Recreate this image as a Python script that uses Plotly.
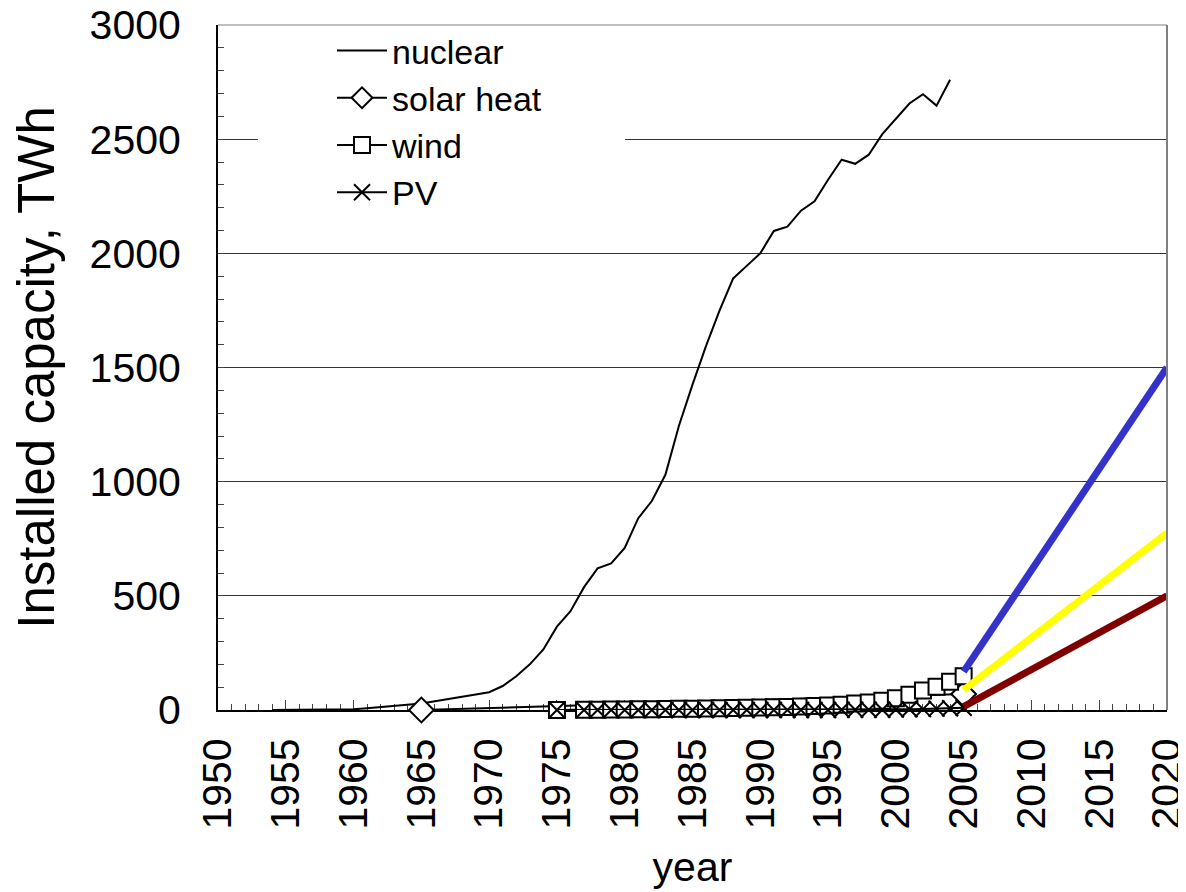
import plotly.graph_objects as go

# ---- data ----
nuclear_years = list(range(1954, 2005))
nuclear_twh = [0, 0, 1, 1, 2, 2, 3, 8, 13, 18, 23, 28, 38, 48, 58, 68, 78,
               105, 148, 200, 265, 365, 433, 538, 620, 642, 710, 840, 915,
               1030, 1245, 1425, 1595, 1750, 1890, 1945, 2000, 2098, 2117,
               2187, 2228, 2322, 2410, 2392, 2432, 2522, 2590, 2656, 2697,
               2647, 2760]

solar_years = [1965, 2005]
solar_twh = [0, 70]

wind_years = [1975] + list(range(1977, 2006))
wind_twh = [0, 1, 1, 2, 2, 3, 3, 4, 5, 6, 7, 8, 9, 10, 11, 12, 13, 15, 17,
            20, 23, 28, 33, 40, 52, 67, 85, 102, 124, 148]

pv_years = [1975] + list(range(1977, 2006))
pv_twh = [0, 0, 0, 0, 0, 0, 0, 0, 0, 0, 0, 0, 0, 0, 0, 0, 0, 0, 0,
          0, 1, 1, 1, 1, 2, 3, 4, 6, 8, 10]

proj_years = [2005, 2020]
wind_proj = [168, 1500]
solar_proj = [88, 775]
pv_proj = [15, 500]

x_ticks = list(range(1950, 2021, 5))
y_ticks = list(range(0, 3001, 500))

FONT = "Liberation Sans, Arial, sans-serif"

# page body has an 8px default margin -> figure sized to the visible area
W, H = 1178, 884
L, R, T, B = 210, 19, 17, 182
PW = W - L - R
PH = H - T - B


def px_x(p):  # screen x of reference -> paper coordinate
    return (p - 8 - L) / PW


def px_y(p):  # screen y of reference -> paper coordinate
    return 1 - (p - 8 - T) / PH


fig = go.Figure()

fig.add_trace(go.Scatter(x=nuclear_years, y=nuclear_twh, mode="lines",
                         name="nuclear", line=dict(color="black", width=2)))
fig.add_trace(go.Scatter(x=solar_years, y=solar_twh, mode="lines+markers",
                         name="solar heat", cliponaxis=False,
                         line=dict(color="black", width=2),
                         marker=dict(symbol="diamond", size=19, color="white",
                                     line=dict(color="black", width=2))))
fig.add_trace(go.Scatter(x=wind_years, y=wind_twh, mode="lines+markers",
                         name="wind", cliponaxis=False,
                         line=dict(color="black", width=2),
                         marker=dict(symbol="square", size=16, color="white",
                                     line=dict(color="black", width=2))))
fig.add_trace(go.Scatter(x=pv_years, y=pv_twh, mode="lines+markers",
                         name="PV", cliponaxis=False,
                         line=dict(color="black", width=2),
                         marker=dict(symbol="x-thin-open", size=16, color="black",
                                     line=dict(color="black", width=2))))
fig.add_trace(go.Scatter(x=proj_years, y=wind_proj, mode="lines", showlegend=False,
                         line=dict(color="#3333CC", width=7)))
fig.add_trace(go.Scatter(x=proj_years, y=solar_proj, mode="lines", showlegend=False,
                         line=dict(color="#FFFF00", width=7)))
fig.add_trace(go.Scatter(x=proj_years, y=pv_proj, mode="lines", showlegend=False,
                         line=dict(color="#800000", width=7)))

# white patch behind the legend hiding the gridline
fig.add_shape(type="rect", xref="paper", yref="paper", layer="above",
              x0=px_x(258), x1=px_x(625), y0=px_y(215), y1=px_y(32),
              fillcolor="white", line=dict(width=0))
# plot frame (top / right in gray)
fig.add_shape(type="line", xref="paper", yref="paper", x0=1, x1=1, y0=0, y1=1,
              line=dict(color="#808080", width=2), layer="above")
fig.add_shape(type="line", xref="paper", yref="paper", x0=0, x1=1, y0=1, y1=1,
              line=dict(color="#808080", width=1), layer="above")

fig.update_layout(
    width=W, height=H,
    margin=dict(l=L, r=R, t=T, b=B, autoexpand=False),
    paper_bgcolor="white", plot_bgcolor="white",
    font=dict(family=FONT, size=41, color="black"),
    showlegend=True,
    legend=dict(x=px_x(332), y=px_y(22),
                xanchor="left", yanchor="top",
                bgcolor="rgba(255,255,255,0)", borderwidth=0,
                font=dict(size=34), itemwidth=50, tracegroupgap=0),
    xaxis=dict(range=[1950, 2020], tickvals=x_ticks,
               ticktext=[str(v) for v in x_ticks], tickangle=-90,
               ticks="inside", ticklen=10, tickwidth=1, tickcolor="#444",
               minor=dict(dtick=1, ticks="inside", ticklen=6, tickcolor="#444", tickwidth=1),
               showgrid=False, zeroline=False, automargin=False,
               ticklabeloverflow="allow",
               showline=True, linecolor="black", linewidth=2,
               layer="below traces", ticklabelstandoff=10,
               title=dict(text="year", standoff=24, font=dict(size=41))),
    yaxis=dict(range=[0, 3000], tickvals=y_ticks,
               ticks="inside", ticklen=6, tickwidth=1, tickcolor="#444",
               minor=dict(dtick=100, ticks="inside", ticklen=6, tickcolor="#444",
                          tickwidth=1, showgrid=False),
               showgrid=True, gridcolor="#333", gridwidth=1, automargin=False,
               ticklabeloverflow="allow",
               zeroline=False, showline=True, linecolor="black", linewidth=2,
               layer="below traces", ticklabelstandoff=27,
               title=dict(text="Installed capacity, TWh", standoff=31,
                          font=dict(size=51))),
)

fig.write_html("out.html")
